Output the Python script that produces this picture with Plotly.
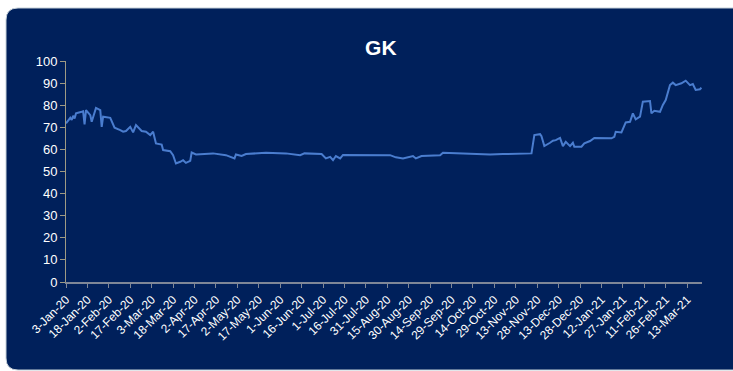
import plotly.graph_objects as go

dates = [
    "2020-01-03", "2020-01-06", "2020-01-07", "2020-01-08", "2020-01-09", "2020-01-10",
    "2020-01-14", "2020-01-15", "2020-01-16", "2020-01-17", "2020-01-20", "2020-01-21",
    "2020-01-24", "2020-01-27", "2020-01-28", "2020-01-29", "2020-02-03", "2020-02-06",
    "2020-02-10", "2020-02-12", "2020-02-14", "2020-02-17", "2020-02-19", "2020-02-21",
    "2020-02-25", "2020-02-28", "2020-03-02", "2020-03-04", "2020-03-06", "2020-03-10",
    "2020-03-11", "2020-03-16", "2020-03-18", "2020-03-20", "2020-03-23", "2020-03-25",
    "2020-03-27", "2020-03-30", "2020-03-31", "2020-04-03", "2020-04-15", "2020-04-24",
    "2020-04-30", "2020-05-01", "2020-05-05", "2020-05-08", "2020-05-22", "2020-06-05",
    "2020-06-15", "2020-06-18", "2020-06-30", "2020-07-03", "2020-07-06", "2020-07-08",
    "2020-07-10", "2020-07-13", "2020-07-15", "2020-07-27", "2020-08-17", "2020-08-21",
    "2020-08-26", "2020-09-02", "2020-09-04", "2020-09-08", "2020-09-21", "2020-09-23",
    "2020-10-09", "2020-10-26", "2020-11-04", "2020-11-23", "2020-11-24", "2020-11-26",
    "2020-11-30", "2020-12-01", "2020-12-03", "2020-12-07", "2020-12-09", "2020-12-11",
    "2020-12-14", "2020-12-16", "2020-12-18", "2020-12-21", "2020-12-23", "2020-12-24",
    "2020-12-29", "2020-12-31", "2021-01-04", "2021-01-07", "2021-01-12", "2021-01-19",
    "2021-01-21", "2021-01-22", "2021-01-26", "2021-01-29", "2021-02-01", "2021-02-03",
    "2021-02-05", "2021-02-08", "2021-02-10", "2021-02-15", "2021-02-16", "2021-02-18",
    "2021-02-22", "2021-02-24", "2021-02-26", "2021-03-01", "2021-03-03", "2021-03-05",
    "2021-03-09", "2021-03-12", "2021-03-15", "2021-03-17", "2021-03-19", "2021-03-22",
    "2021-03-23",
]

gk = [
    71.8, 74.3, 73.3, 75.2, 74.0, 76.3,
    77.0, 77.2, 71.3, 77.8, 75.5, 72.5,
    78.8, 77.8, 70.2, 74.8, 74.3, 69.8,
    68.7, 68.0, 68.3, 70.2, 67.7, 71.0,
    68.3, 68.0, 66.5, 68.0, 62.7, 62.2,
    59.7, 59.2, 57.4, 53.6, 54.4, 55.1,
    53.9, 54.8, 58.6, 57.7, 58.2, 57.4,
    55.9, 57.7, 57.0, 57.9, 58.5, 58.2,
    57.4, 58.2, 57.9, 55.9, 56.6, 55.1,
    57.0, 55.9, 57.5, 57.4, 57.4, 56.4,
    55.9, 57.0, 55.9, 57.0, 57.4, 58.5,
    58.2, 57.7, 57.9, 58.5, 58.2, 66.5,
    66.9, 66.0, 61.5, 63.0, 63.9, 64.2,
    65.2, 61.5, 63.4, 61.5, 63.0, 61.2,
    61.2, 62.7, 63.8, 65.2, 65.0, 65.0,
    65.7, 68.0, 67.7, 72.2, 72.5, 76.3,
    73.6, 74.8, 81.6, 81.9, 76.3, 77.5,
    77.0, 80.1, 82.3, 89.1, 90.2, 89.1,
    89.9, 91.1, 89.1, 89.6, 86.9, 87.2,
    87.9,
]

tick_dates = [
    "2020-01-03", "2020-01-18", "2020-02-02", "2020-02-17", "2020-03-03", "2020-03-18",
    "2020-04-02", "2020-04-17", "2020-05-02", "2020-05-17", "2020-06-01", "2020-06-16",
    "2020-07-01", "2020-07-16", "2020-07-31", "2020-08-15", "2020-08-30", "2020-09-14",
    "2020-09-29", "2020-10-14", "2020-10-29", "2020-11-13", "2020-11-28", "2020-12-13",
    "2020-12-28", "2021-01-12", "2021-01-27", "2021-02-11", "2021-02-26", "2021-03-13",
]
tick_labels = [
    "3-Jan-20", "18-Jan-20", "2-Feb-20", "17-Feb-20", "3-Mar-20", "18-Mar-20",
    "2-Apr-20", "17-Apr-20", "2-May-20", "17-May-20", "1-Jun-20", "16-Jun-20",
    "1-Jul-20", "16-Jul-20", "31-Jul-20", "15-Aug-20", "30-Aug-20", "14-Sep-20",
    "29-Sep-20", "14-Oct-20", "29-Oct-20", "13-Nov-20", "28-Nov-20", "13-Dec-20",
    "28-Dec-20", "12-Jan-21", "27-Jan-21", "11-Feb-21", "26-Feb-21", "13-Mar-21",
]
y_ticks = [0, 10, 20, 30, 40, 50, 60, 70, 80, 90, 100]

NAVY = "#00205B"
FONT = "Liberation Sans, Arial, sans-serif"

fig = go.Figure()
fig.add_trace(go.Scatter(
    x=dates, y=gk, mode="lines",
    line=dict(color="#4A7DCF", width=2),
    showlegend=False, hoverinfo="x+y",
))

# rounded navy panel (pixel coordinates relative to plot-area origin)
L, R, B, T, r = -60, 680, -88, 274, 12
panel = (f"M {L},{B + r} L {L},{T - r} Q {L},{T} {L + r},{T} L {R},{T} "
         f"L {R},{B} L {L + r},{B} Q {L},{B} {L},{B + r} Z")
fig.add_shape(
    type="path", path=panel, xref="paper", yref="paper",
    xsizemode="pixel", ysizemode="pixel", xanchor=0, yanchor=0,
    fillcolor=NAVY, line=dict(color="#C5D0D8", width=1), layer="below",
)

fig.update_layout(
    width=733, height=371,
    margin=dict(l=66, r=31, t=61, b=89),
    paper_bgcolor="white",
    plot_bgcolor="rgba(0,0,0,0)",
    font=dict(family=FONT, color="white"),
    title=dict(text="<b>GK</b>", x=0.495, xref="paper", xanchor="center",
               y=0.872, yref="container", yanchor="middle",
               font=dict(size=21, color="white", family=FONT)),
    xaxis=dict(
        type="date",
        range=["2020-01-03", "2021-03-23 10:00"],
        tickvals=tick_dates, ticktext=tick_labels,
        tickangle=-45, tickfont=dict(size=12, color="white", family=FONT),
        showgrid=False, zeroline=False,
        showline=True, linecolor="#7F8797", linewidth=2,
        ticks="outside", ticklen=4, tickcolor="#7F8797", tickwidth=1,
    ),
    yaxis=dict(
        range=[0, 100], tickvals=y_ticks,
        tickfont=dict(size=13, color="white", family=FONT),
        showgrid=False, zeroline=False,
        showline=True, linecolor="#9E9A84", linewidth=1,
        ticks="outside", ticklen=5, tickcolor="#9E9A84", tickwidth=1,
    ),
)

fig.write_html("out.html")
